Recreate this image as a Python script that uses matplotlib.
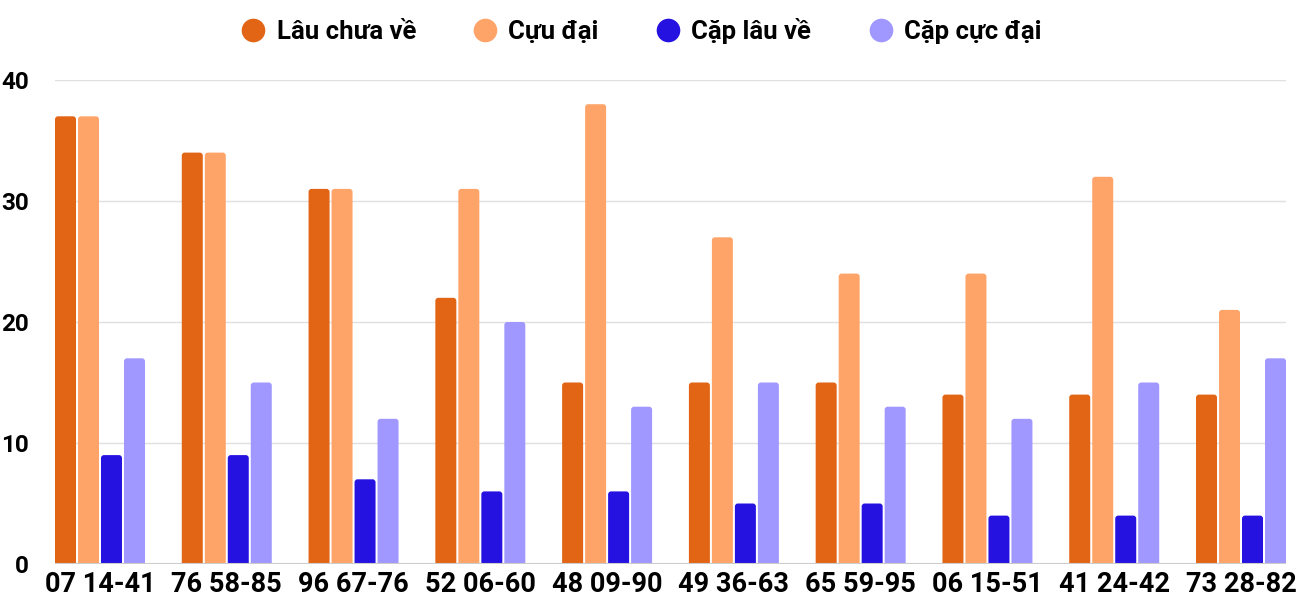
import matplotlib
matplotlib.use("Agg")
import matplotlib.pyplot as plt
from matplotlib.lines import Line2D
from matplotlib.patches import FancyBboxPatch
import numpy as np

categories = ["07 14-41", "76 58-85", "96 67-76", "52 06-60", "48 09-90",
              "49 36-63", "65 59-95", "06 15-51", "41 24-42", "73 28-82"]
series_names = ["Lâu chưa về", "Cựu đại", "Cặp lâu về", "Cặp cực đại"]
lau_chua_ve = [37, 34, 31, 22, 15, 15, 15, 14, 14, 14]
cuu_dai = [37, 34, 31, 31, 38, 27, 24, 24, 32, 21]
cap_lau_ve = [9, 9, 7, 6, 6, 5, 5, 4, 4, 4]
cap_cuc_dai = [17, 15, 12, 20, 13, 15, 13, 12, 15, 17]
y_ticks = [0, 10, 20, 30, 40]

colors = ["#E26415", "#FFA469", "#2612E0", "#A097FF"]

plt.rcParams['font.family'] = ['Roboto', 'DejaVu Sans']

fig = plt.figure(figsize=(13, 6), dpi=100)
ax = fig.add_axes([55/1300, 1-564/600, 1231/1300, 484/600])

x = np.arange(len(categories))
bw = 21/126.8
step = 23/126.8
all_series = [lau_chua_ve, cuu_dai, cap_lau_ve, cap_cuc_dai]
r = 3/126.8
aspect = (3/12.1) / r
for i, (vals, c) in enumerate(zip(all_series, colors)):
    bars = ax.bar(x + (i - 1.5) * step, vals, width=bw, color=c, zorder=3, linewidth=0)
    for rect in bars:
        bx, by = rect.get_x(), rect.get_y()
        w, h = rect.get_width(), rect.get_height()
        p = FancyBboxPatch((bx, by - 1), w, h + 1,
                           boxstyle=f"round,pad=0,rounding_size={r}",
                           mutation_aspect=aspect, facecolor=c, linewidth=0,
                           zorder=3, clip_on=True)
        ax.add_patch(p)
        rect.remove()

ax.set_xlim(-1.5*step - bw/2, len(categories) - 1 + 1.5*step + bw/2)
ax.set_ylim(0, 40)
ax.set_yticks(y_ticks)
ax.set_xticks(x)
ax.set_xticklabels(categories, fontsize=19.5, fontweight='bold')
ax.set_yticklabels([str(v) for v in y_ticks], fontsize=17.5, fontweight='bold')
ax.tick_params(axis='both', length=0)
ax.tick_params(axis='y', pad=19)
ax.tick_params(axis='x', pad=5)
for s in ax.spines.values():
    s.set_visible(False)
ax.grid(axis='y', color='#e0e0e0', linewidth=1, zorder=0)
ax.axhline(0, color='#cccccc', linewidth=1.5, zorder=4)

handles = [Line2D([0], [0], marker='o', linestyle='none', markersize=17,
                  markerfacecolor=c, markeredgewidth=0) for c in colors]
fig.legend(handles, series_names, loc='center', bbox_to_anchor=(0.492, 1-31/600),
           ncol=4, frameon=False, prop={'size': 18.5, 'weight': 'bold'},
           handletextpad=0.3, columnspacing=2.1, handlelength=1.2)

fig.savefig("out.png", dpi=100)
